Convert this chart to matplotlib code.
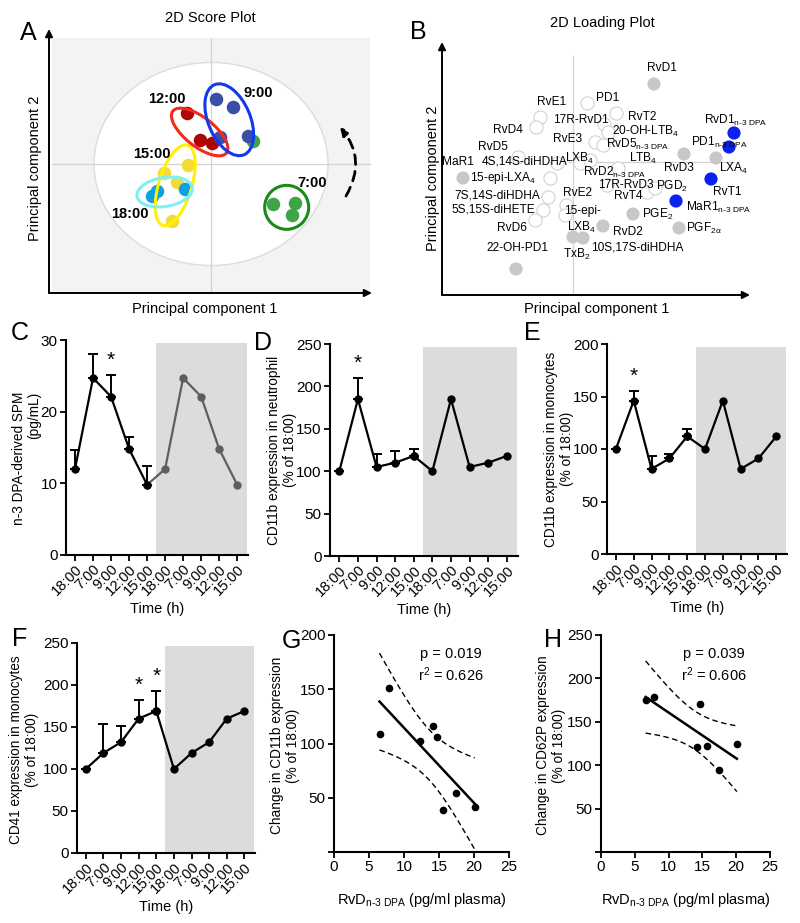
import matplotlib

matplotlib.use("Agg")
import matplotlib.pyplot as plt
import numpy as np
from matplotlib.patches import Ellipse, Rectangle

plt.rcParams["font.family"] = ["Liberation Sans", "DejaVu Sans"]
plt.rcParams["mathtext.fontset"] = "custom"
plt.rcParams["mathtext.rm"] = "Liberation Sans"
plt.rcParams["mathtext.it"] = "Liberation Sans:italic"
plt.rcParams["mathtext.bf"] = "Liberation Sans:bold"

W, H = 800, 923

# ---------------------------------------------------------------- data
# A: PCA scores per sampling time
score_groups = ["15:00", "18:00", "12:00", "9:00", "7:00"]
score_pc1 = {
    "9:00": [0.25, 1.10, 1.85, 0.45],
    "12:00": [-1.20, -0.55, 0.05],
    "15:00": [-1.15, -2.35, -1.70, -1.95],
    "18:00": [-2.70, -1.30, -2.95],
    "7:00": [3.10, 4.20, 4.05],
}
score_pc2 = {
    "9:00": [3.25, 2.85, 1.40, 1.35],
    "12:00": [2.55, 1.20, 1.05],
    "15:00": [-0.05, -0.45, -0.90, -2.85],
    "18:00": [-1.35, -1.25, -1.60],
    "7:00": [-2.00, -1.95, -2.55],
}
# one 7:00 sample sitting next to the 9:00 cluster
score_7h_extra = (2.10, 1.15)

# B: loadings (kind: g = grey, b = blue n-3 DPA, o = open)
load_names = [
    "RvD1", "RvD3", "LXA4", "MaR1", "PGE2", "RvD2", "PGF2a", "TxB2",
    "10S,17S-diHDHA", "22-OH-PD1",
    "RvD1n3", "PD1n3", "RvT1", "MaR1n3",
    "PD1", "RvE1", "RvD4", "17R-RvD1", "RvT2", "20-OH-LTB4", "RvE3",
    "RvD5n3", "RvD5", "4S,14S-diHDHA", "LXB4", "15-epi-LXA4", "RvD2n3",
    "LTB4", "17R-RvD3", "RvT4", "PGD2", "7S,14S-diHDHA", "5S,15S-diHETE",
    "RvE2", "RvD6", "15-epi-LXB4",
]
load_pc1 = [
    0.162, 0.222, 0.286, -0.220, 0.120, 0.060, 0.212, 0.000, 0.020, -0.114,
    0.322, 0.312, 0.276, 0.206,
    0.028, -0.066, -0.074, 0.062, 0.086, 0.070, 0.044, 0.060, -0.110,
    -0.032, 0.014, -0.046, 0.090, 0.034, 0.068, 0.148, 0.164, -0.050,
    -0.060, -0.014, -0.076, -0.016,
]
load_pc2 = [
    0.156, 0.016, 0.008, -0.032, -0.104, -0.128, -0.132, -0.150, -0.152, -0.214,
    0.058, 0.030, -0.034, -0.078,
    0.118, 0.090, 0.070, 0.076, 0.098, 0.060, 0.040, 0.034, 0.010,
    -0.002, -0.002, -0.032, -0.012, 0.004, -0.046, -0.060, -0.052, -0.070,
    -0.096, -0.086, -0.116, -0.106,
]
load_kind = ["g"] * 10 + ["b"] * 4 + ["o"] * 22

# C-F: double-plotted 24 h time course
times = ["18:00", "7:00", "9:00", "12:00", "15:00"]
spm_mean = [12.0, 24.7, 22.1, 14.8, 9.8]
spm_upper = [14.6, 28.1, 25.1, 16.4, 12.4]
cd11b_neut_mean = [100, 185, 105, 110, 118]
cd11b_neut_upper = [100, 210, 120, 124, 126]
cd11b_mono_mean = [100, 146, 81, 91, 112]
cd11b_mono_upper = [100, 155, 93, 95, 119]
cd41_mono_mean = [100, 119, 132, 160, 169]
cd41_mono_upper = [100, 153, 151, 182, 193]

# G-H: correlations with RvD n-3 DPA
rvd_g = [6.5, 7.8, 12.3, 14.1, 14.7, 15.6, 17.4, 20.1]
cd11b_change = [108.6, 150.8, 102.5, 116.0, 106.0, 38.5, 54.5, 41.5]
rvd_h = [6.6, 7.9, 14.2, 14.7, 15.7, 17.5, 20.1]
cd62p_change = [175, 178, 121, 170, 122, 94, 124]
T95 = {5: 2.571, 6: 2.447}

# ---------------------------------------------------------------- helpers
fig = plt.figure(figsize=(W / 100, H / 100), dpi=100)


def px_axes(x0, y0, x1, y1):
    return fig.add_axes([x0 / W, 1 - y1 / H, (x1 - x0) / W, (y1 - y0) / H])


def ftext(x, y, s, **kw):
    fig.text(x / W, 1 - y / H, s, **kw)


def axis_arrows(ax):
    for tip in [(0, 1), (1, 0)]:
        ax.annotate("", xy=tip, xytext=(0, 0), xycoords="axes fraction",
                    arrowprops=dict(arrowstyle="-|>", color="k", lw=1.4,
                                    mutation_scale=11, shrinkA=0, shrinkB=0))


def style_axes(ax):
    for side in ["top", "right"]:
        ax.spines[side].set_visible(False)
    for side in ["left", "bottom"]:
        ax.spines[side].set_linewidth(1.5)
    ax.tick_params(width=1.3, length=4, labelsize=11, pad=2)


# ---------------------------------------------------------------- A
axA = px_axes(49, 29, 372, 293)
axA.set_xlim(-8.1, 8.05)
axA.set_ylim(-6.45, 6.75)
axA.axis("off")
axA.add_patch(Rectangle((-7.95, -6.45), 15.9, 12.75, color="#F3F3F3", lw=0, zorder=0))
axA.add_patch(Ellipse((0, 0), 11.7, 10.15, fc="white", ec="#DCDCDC", lw=1, zorder=1))
axA.plot([0, 0], [-6.45, 6.3], color="#D3D3D3", lw=0.9, zorder=1.5)
axA.plot([-7.95, 7.95], [0, 0], color="#D3D3D3", lw=0.9, zorder=1.5)
axis_arrows(axA)

dot_col = {"9:00": "#3B4EA7", "12:00": "#AE0505", "15:00": "#F5D936",
           "18:00": "#0EA0E2", "7:00": "#3EA447"}
ring_col = {"9:00": "#1238EE", "12:00": "#F22A18", "15:00": "#FFF200",
            "18:00": "#7EEFF8", "7:00": "#1A8A1A"}
# (long axis, short axis, angle of long axis)
ring_shape = {"9:00": (3.8, 2.1, -67), "12:00": (3.4, 1.45, -38),
              "15:00": (4.2, 1.65, 73), "18:00": (2.8, 1.45, 9),
              "7:00": (2.2, 2.2, 0)}
label_pos = {"9:00": (2.35, 3.55), "12:00": (-2.2, 3.25), "15:00": (-2.95, 0.5),
             "18:00": (-4.05, -2.5), "7:00": (5.05, -0.95)}

axA.scatter(*score_7h_extra, s=95, color=dot_col["7:00"], lw=0, zorder=3)
for g in score_groups:
    axA.scatter(score_pc1[g], score_pc2[g], s=95, color=dot_col[g], lw=0, zorder=3)
for g in score_groups:
    cx, cy = np.mean(score_pc1[g]), np.mean(score_pc2[g])
    w, h, ang = ring_shape[g]
    axA.add_patch(Ellipse((cx, cy), w, h, angle=ang, fill=False,
                          ec=ring_col[g], lw=2.2, zorder=4))
    axA.text(*label_pos[g], g, fontsize=10.5, fontweight="bold",
             ha="center", va="center", zorder=5)

axA.annotate("", xy=(6.45, 1.85), xytext=(6.75, -1.6),
             arrowprops=dict(arrowstyle="-|>", color="k", lw=2,
                             linestyle=(0, (3.5, 2.5)), mutation_scale=12,
                             connectionstyle="arc3,rad=0.35",
                             shrinkA=0, shrinkB=0))

ftext(210, 18, "2D Score Plot", fontsize=10.5, ha="center", va="center")
ftext(35, 168, "Principal component 2", fontsize=10.5, rotation=90,
      ha="center", va="center")
ftext(205, 309, "Principal component 1", fontsize=10.5, ha="center", va="center")

# ---------------------------------------------------------------- B
axB = px_axes(442, 42, 750, 295)
axB.set_xlim(-0.262, 0.354)
axB.set_ylim(-0.266, 0.24)
axB.axis("off")
axB.plot([0, 0], [-0.266, 0.212], color="#D3D3D3", lw=0.9, zorder=0)
axB.plot([-0.01, 0.322], [0, 0], color="#D3D3D3", lw=0.9, zorder=0)
axis_arrows(axB)

kind_style = {
    "o": dict(fc="white", ec="#D6D6D6", lw=0.9),
    "g": dict(fc="#C8C8C8", ec="none", lw=0),
    "b": dict(fc="#0A22EE", ec="none", lw=0),
}
for k in ["o", "g", "b"]:
    idx = [i for i, kk in enumerate(load_kind) if kk == k]
    axB.scatter([load_pc1[i] for i in idx], [load_pc2[i] for i in idx],
                s=90, zorder=2, **kind_style[k])

sub = r"$_{\mathregular{%s}}$"
dpa = sub % "n\u20103\\ DPA"
load_labels = {
    "RvD1": ("RvD1", 0.178, 0.188),
    "PD1": ("PD1", 0.070, 0.128),
    "RvE1": ("RvE1", -0.042, 0.120),
    "RvT2": ("RvT2", 0.138, 0.090),
    "17R-RvD1": ("17R-RvD1", 0.016, 0.084),
    "RvD1n3": ("RvD1" + dpa, 0.326, 0.084),
    "RvD4": ("RvD4", -0.130, 0.064),
    "20-OH-LTB4": ("20-OH-LTB" + sub % "4", 0.146, 0.062),
    "RvE3": ("RvE3", -0.010, 0.046),
    "RvD5n3": ("RvD5" + dpa, 0.130, 0.036),
    "PD1n3": ("PD1" + dpa, 0.292, 0.040),
    "RvD5": ("RvD5", -0.160, 0.030),
    "MaR1": ("MaR1", -0.230, 0.000),
    "4S,14S-diHDHA": ("4S,14S-diHDHA", -0.096, 0.000),
    "LXB4": ("LXB" + sub % "4", 0.014, 0.008),
    "LTB4": ("LTB" + sub % "4", 0.140, 0.008),
    "RvD3": ("RvD3", 0.212, -0.012),
    "LXA4": ("LXA" + sub % "4", 0.322, -0.012),
    "RvD2n3": ("RvD2" + dpa, 0.084, -0.021),
    "15-epi-LXA4": ("15-epi-LXA" + sub % "4", -0.140, -0.032),
    "17R-RvD3": ("17R-RvD3", 0.106, -0.046),
    "PGD2": ("PGD" + sub % "2", 0.198, -0.048),
    "RvT4": ("RvT4", 0.110, -0.068),
    "RvE2": ("RvE2", 0.010, -0.062),
    "RvT1": ("RvT1", 0.308, -0.060),
    "7S,14S-diHDHA": ("7S,14S-diHDHA", -0.152, -0.068),
    "MaR1n3": ("MaR1" + dpa, 0.292, -0.090),
    "5S,15S-diHETE": ("5S,15S-diHETE", -0.160, -0.096),
    "15-epi-LXB4": ("15-epi-\nLXB" + sub % "4", 0.018, -0.116),
    "PGE2": ("PGE" + sub % "2", 0.170, -0.104),
    "RvD6": ("RvD6", -0.122, -0.132),
    "RvD2": ("RvD2", 0.110, -0.140),
    "PGF2a": ("PGF" + sub % "2\u03b1", 0.262, -0.132),
    "22-OH-PD1": ("22-OH-PD1", -0.112, -0.172),
    "10S,17S-diHDHA": ("10S,17S-diHDHA", 0.128, -0.172),
    "TxB2": ("TxB" + sub % "2", 0.008, -0.184),
}
for name in load_names:
    txt, tx, ty = load_labels[name]
    axB.text(tx, ty, txt, fontsize=8.6, ha="center", va="center", zorder=3,
             linespacing=1.3)

ftext(602, 23, "2D Loading Plot", fontsize=10.5, ha="center", va="center")
ftext(433, 178, "Principal component 2", fontsize=10.5, rotation=90,
      ha="center", va="center")
ftext(597, 309, "Principal component 1", fontsize=10.5, ha="center", va="center")


# ---------------------------------------------------------------- C-F
def time_panel(box, mean, upper, ylim, yticks, ylabel, stars, lab_xy,
               second="k", align="center"):
    ax = px_axes(*box)
    x = np.arange(10)
    vals = list(mean) * 2
    ax.axvspan(4.5, 9.55, ymax=0.985, color="#DCDCDC", lw=0, zorder=0)
    ax.plot(x[4:], vals[4:], "-o", color=second, lw=1.6, ms=5, zorder=2)
    ax.plot(x[:5], vals[:5], "-o", color="k", lw=1.6, ms=5, zorder=3)
    err = np.array(upper) - np.array(mean)
    ax.errorbar(x[:5], mean, yerr=[np.zeros(5), err], fmt="none", ecolor="k",
                elinewidth=1.4, capsize=3.5, capthick=1.4, zorder=3)
    span = ylim[1] - ylim[0]
    for i in stars:
        ax.text(x[i], upper[i] + 0.025 * span, "*", fontsize=15,
                ha="center", va="bottom")
    ax.set_xlim(-0.5, 9.6)
    ax.set_ylim(*ylim)
    ax.set_yticks(yticks)
    ax.set_xticks(x)
    ax.set_xticklabels(times * 2, rotation=45, ha="right",
                       rotation_mode="anchor")
    ax.set_xlabel("Time (h)", fontsize=10.5, labelpad=3)
    ax.set_ylabel(ylabel, fontsize=9.8, linespacing=1.15, multialignment=align)
    ax.yaxis.set_label_coords(*lab_xy)
    style_axes(ax)
    ax.tick_params(axis="x", labelsize=10.5, pad=1)
    return ax


time_panel((66, 340, 248, 555), spm_mean, spm_upper, (0, 30), [0, 10, 20, 30],
           "n-3 DPA-derived SPM\n(pg/mL)", [2], (-0.135, 0.45),
           second="#5E5E5E", align="right")
time_panel((330, 344, 518, 556), cd11b_neut_mean, cd11b_neut_upper, (0, 250),
           range(0, 251, 50), "CD11b expression in neutrophil\n(% of 18:00)",
           [1], (-0.176, 0.5))
time_panel((607, 344, 787, 554), cd11b_mono_mean, cd11b_mono_upper, (0, 200),
           range(0, 201, 50), "CD11b expression in monocytes\n(% of 18:00)",
           [1], (-0.183, 0.5))
time_panel((77, 643, 255, 853), cd41_mono_mean, cd41_mono_upper, (0, 250),
           range(0, 251, 50), "CD41 expression in monocytes\n(% of 18:00)",
           [3, 4], (-0.213, 0.49))


# ---------------------------------------------------------------- G-H
def reg_panel(box, xv, yv, ylim, yticks, ylabel, ptxt, r2txt, lab_x):
    ax = px_axes(*box)
    xv, yv = np.asarray(xv, float), np.asarray(yv, float)
    n = len(xv)
    slope, icpt = np.polyfit(xv, yv, 1)
    xs = np.linspace(xv.min(), xv.max(), 100)
    fit = icpt + slope * xs
    resid = yv - (icpt + slope * xv)
    s = np.sqrt(np.sum(resid ** 2) / (n - 2))
    sxx = np.sum((xv - xv.mean()) ** 2)
    band = T95[n - 2] * s * np.sqrt(1 / n + (xs - xv.mean()) ** 2 / sxx)
    ax.plot(xs, fit, color="k", lw=1.8)
    ax.plot(xs, fit + band, color="k", lw=1.0, ls=(0, (4, 2.5)))
    ax.plot(xs, fit - band, color="k", lw=1.0, ls=(0, (4, 2.5)))
    ax.plot(xv, yv, "o", color="k", ms=4.5)
    ax.set_xlim(0, 25)
    ax.set_ylim(*ylim)
    ax.set_xticks(range(0, 26, 5))
    ax.set_yticks([0] + list(yticks))
    ax.set_yticklabels([""] + [str(t) for t in yticks])
    ax.text(0.67, 0.86, ptxt + "\n" + r2txt, transform=ax.transAxes,
            fontsize=10.5, ha="center", va="center", linespacing=1.3)
    ax.set_xlabel("RvD" + dpa + " (pg/ml plasma)", fontsize=10.5, labelpad=12)
    ax.set_ylabel(ylabel, fontsize=9.8, linespacing=1.15)
    ax.yaxis.set_label_coords(lab_x, 0.49)
    style_axes(ax)
    return ax


reg_panel((334, 635, 509, 852), rvd_g, cd11b_change, (0, 200),
          [50, 100, 150, 200], "Change in CD11b expression\n(% of 18:00)",
          "p = 0.019", "r$^{\\mathregular{2}}$ = 0.626", -0.195)
reg_panel((601, 635, 770, 852), rvd_h, cd62p_change, (0, 250),
          [50, 100, 150, 200, 250], "Change in CD62P expression\n(% of 18:00)",
          "p = 0.039", "r$^{\\mathregular{2}}$ = 0.606", -0.21)

# ---------------------------------------------------------------- letters
for letter, lx, ly in [("A", 28, 33), ("B", 418, 32), ("C", 20, 333),
                       ("D", 263, 343), ("E", 532, 333), ("F", 20, 639),
                       ("G", 291, 641), ("H", 553, 640)]:
    ftext(lx, ly, letter, fontsize=18, ha="center", va="center")

fig.savefig("out.png", dpi=100)
